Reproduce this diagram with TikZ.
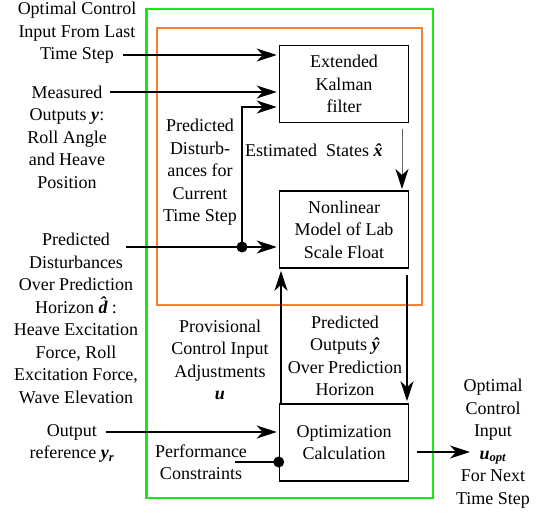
\documentclass[tikz,border=0pt]{standalone}
\usepackage{fontspec}
\setmainfont{Liberation Serif}
\usetikzlibrary{arrows.meta}
\definecolor{mpcgreen}{RGB}{20,235,20}
\definecolor{ekforange}{RGB}{245,130,50}
\newcommand{\bvec}[1]{\textbf{\textit{#1}}}

\tikzset{
  block/.style={draw, line width=1.6pt, minimum width=129pt, minimum height=77pt, align=center, inner sep=0pt},
  lbl/.style={align=center, inner sep=0pt},
  flow/.style={line width=1.3pt, -{Stealth[length=20pt,width=13pt,inset=6pt]}, shorten >=2pt},
  junc/.style={circle, fill, inner sep=0pt, minimum size=11pt}
}

\begin{document}
\begin{tikzpicture}[x=1pt, y=-1pt, font=\fontsize{18}{22.5}\selectfont]
    \useasboundingbox (0,0) rectangle (550,517);
    \draw[mpcgreen, line width=2.5pt] (146.5,9) rectangle (433,498);
    \draw[ekforange, line width=2.5pt] (157,28) rectangle (422,305);

    \node[block] (ekf) at (344,84) {Extended\\Kalman\\filter};
    \node[block] (model) at (344,229.5) {Nonlinear\\Model of Lab\\Scale Float};
    \node[block] (opt) at (344,442.5) {Optimization\\Calculation};

    \node[lbl] (lastin) at (77,33) {Optimal Control\\Input From Last\\Time Step};
    \node[lbl] (meas) at (67,137) {Measured\\Outputs \bvec{y}:\\Roll Angle\\and Heave\\Position};
    \node[lbl] (dist) at (76,318.5) {Predicted\\Disturbances\\Over Prediction\\Horizon \bvec{\^d}:\\Heave Excitation\\Force, Roll\\Excitation Force,\\Wave Elevation};
    \node[lbl] (distnow) at (200,172.5) {Predicted\\Disturb-\\ances for\\Current\\Time Step};
    \node[lbl] (est) at (316,150) {Estimated\ \ States \bvec{\^x}};
    \node[lbl] (prov) at (220,360) {Provisional\\Control Input\\Adjustments\\\bvec{u}};
    \node[lbl] (predout) at (345,356) {Predicted\\Outputs \bvec{ŷ}\\Over Prediction\\Horizon};
    \node[lbl] (outref) at (72,443.5) {Output\\reference \bvec{y}\textsubscript{\bvec{r}}};
    \node[lbl] (perf) at (201,462) {Performance\\Constraints};
    \node[lbl] (uopt) at (493,443.5) {Optimal\\Control\\Input\\\bvec{u}\textsubscript{\bvec{opt}}\\For Next\\Time Step};

    \coordinate (lastin-out) at (123,55);
    \coordinate (meas-out) at (110,92);
    \coordinate (dist-out) at (126,247);
    \coordinate (ref-out) at (106,432);
    \coordinate (perf-out) at (235,462);
    \coordinate (est-top) at (402,129);
    \coordinate (est-bot) at (402,191);
    \coordinate (uopt-end) at (472,452);

    \draw[flow] (lastin-out) -- (lastin-out -| ekf.west);
    \draw[flow] (meas-out) -- (meas-out -| ekf.west);
    \draw[flow] (dist-out) -- (dist-out -| model.west);
    \node[junc] (tap) at (242,247) {};
    \draw[flow] (tap.center) -- (242,107) -- (ekf.west |- 0,107);
    \draw[black!60, line width=0.9pt, -{Stealth[length=20pt,width=13pt,inset=6pt,black]}, shorten >=2pt] (est-top) -- (est-bot);
    \draw[flow] (opt.north -| 281,0) -- (model.south -| 281,0);
    \draw[flow] (model.south -| 407,0) ++(0,6) -- (opt.north -| 407,0);
    \draw[flow] (ref-out) -- (ref-out -| opt.west);
    \node[junc] (cons) at (opt.west |- perf-out) {};
    \draw[line width=1.3pt] (perf-out) -- (cons.center);
    \draw[flow] (opt.east |- uopt-end) ++(8,0) -- (uopt-end);
\end{tikzpicture}
\end{document}
